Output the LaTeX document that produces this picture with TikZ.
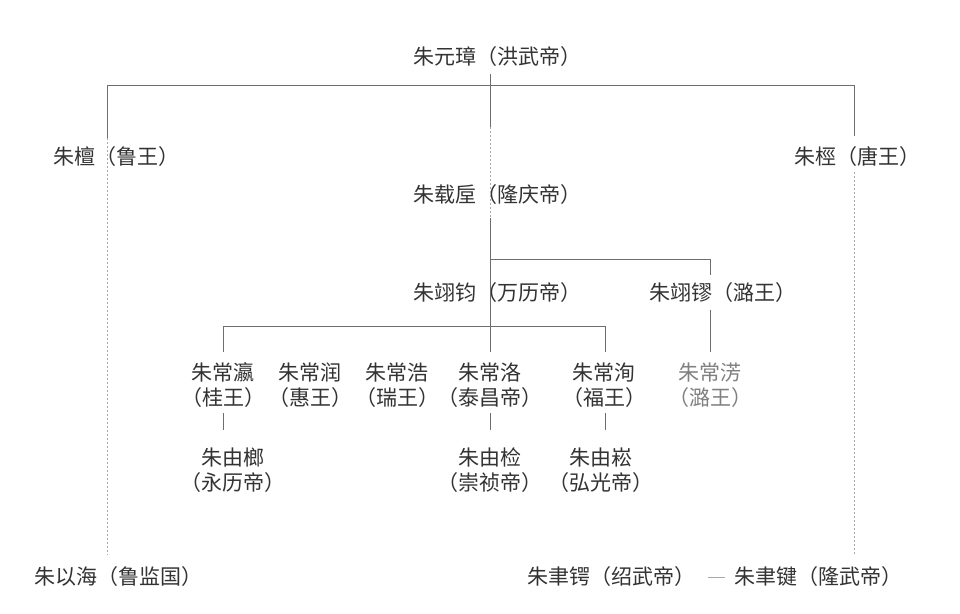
\documentclass[tikz,border=0pt]{standalone}
\usepackage{fontspec}
\newfontfamily\cjk{Noto Sans CJK SC}
\definecolor{txt}{HTML}{333333}
\definecolor{ln}{HTML}{6E6E6E}
\definecolor{dl}{HTML}{A8A8A8}
\definecolor{gtxt}{HTML}{808080}
\begin{document}
\begin{tikzpicture}[x=1pt,y=-1pt,
  lbl/.style={inner sep=0pt,text=txt,font=\cjk\fontsize{21}{25}\selectfont},
  two/.style={lbl,align=center},
  solidln/.style={draw=ln,line width=1pt},
  dotln/.style={draw=dl,line width=1pt,dash pattern=on 2pt off 2pt}]
\useasboundingbox[fill=white] (0,0) rectangle (960,613);
% nodes
\node[lbl,anchor=west] (hongwu) at (413,57) {朱元璋（洪武帝）};
\node[lbl,anchor=west] (lu) at (53,157) {朱檀（鲁王）};
\node[lbl,anchor=west] (tang) at (794,157) {朱桱（唐王）};
\node[lbl,anchor=west] (longqing) at (413,195) {朱载垕（隆庆帝）};
\node[lbl,anchor=west] (wanli) at (413,293) {朱翊钧（万历帝）};
\node[lbl,anchor=west] (luwang) at (649,293) {朱翊镠（潞王）};
\node[two] (gui) at (223,385.5) {朱常瀛\\（桂王）};
\node[two] (hui) at (310,385.5) {朱常润\\（惠王）};
\node[two] (rui) at (397,385.5) {朱常浩\\（瑞王）};
\node[two] (taichang) at (490,385.5) {朱常洛\\（泰昌帝）};
\node[two] (fu) at (604,385.5) {朱常洵\\（福王）};
\node[two,text=gtxt] (luwang2) at (710,385.5) {朱常淓\\（潞王）};
\node[two] (yongli) at (233,470) {朱由榔\\（永历帝）};
\node[two] (chongzhen) at (490,470) {朱由检\\（崇祯帝）};
\node[two] (hongguang) at (601,470) {朱由崧\\（弘光帝）};
\node[lbl,anchor=west] (luhai) at (34,577) {朱以海（鲁监国）};
\node[lbl,anchor=west] (shaowu) at (527,577) {朱聿锷（绍武帝）};
\node[lbl,anchor=west] (longwu) at (734,577) {朱聿键（隆武帝）};
% junction coordinates
\coordinate (c0) at (490,74);
\coordinate (c1) at (490,85);
\coordinate (c2) at (490,127);
\coordinate (c3) at (490,218);
\coordinate (c4) at (490,259);
\coordinate (c5) at (490,326);
\coordinate (c6) at (490,352);
\coordinate (l1) at (107,85);
\coordinate (l2) at (107,138);
\coordinate (l3) at (107,555);
\coordinate (r1) at (854,85);
\coordinate (r2) at (854,136);
\coordinate (r3) at (854,172);
\coordinate (r4) at (854,555);
\coordinate (m1) at (710,259);
\coordinate (m2) at (710,275);
\coordinate (m3) at (710,310);
\coordinate (m4) at (710,352);
\coordinate (g1) at (223,326);
\coordinate (g2) at (223,352);
\coordinate (f1) at (605,326);
\coordinate (f2) at (605,352);
% connectors
\draw[solidln] (l1) -- (r1);
\draw[solidln] (c0) -- (c2);
\draw[dotln] (c2) -- (c3);
\draw[solidln] (c3) -- (c6);
\draw[solidln] (l1) -- (l2);
\draw[dotln] (l2) -- (l3);
\draw[solidln] (r1) -- (r2);
\draw[dotln] (r3) -- (r4);
\draw[solidln] (c4) -- (m1) -- (m2);
\draw[solidln] (m3) -- (m4);
\draw[solidln] (g2) -- (g1) -- (f1) -- (f2);
\draw[solidln] (gui.south) ++(0,5) -- ++(0,17);
\draw[solidln] (taichang.south) ++(0,5) -- ++(0,17);
\draw[solidln] (fu.south -| f1) ++(0,5) -- ++(0,17);
\draw[draw=dl,line width=1pt] ([xshift=0pt]shaowu.east) ++(13,0) -- ([xshift=-9pt]longwu.west);
\end{tikzpicture}
\end{document}
